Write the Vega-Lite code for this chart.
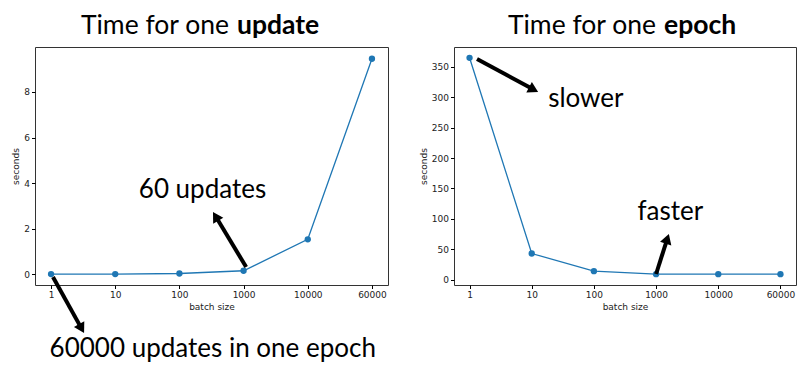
{
  "$schema": "https://vega.github.io/schema/vega-lite/v6.json",
  "padding": {"left": 11, "top": 12, "right": 5, "bottom": 0},
  "bounds": "flush",
  "spacing": 66,
  "datasets": {
    "update": [
      {"idx": 0, "batch": "1", "seconds": 0.003},
      {"idx": 1, "batch": "10", "seconds": 0.005},
      {"idx": 2, "batch": "100", "seconds": 0.03},
      {"idx": 3, "batch": "1000", "seconds": 0.15},
      {"idx": 4, "batch": "10000", "seconds": 1.53},
      {"idx": 5, "batch": "60000", "seconds": 9.46}
    ],
    "epoch": [
      {"idx": 0, "batch": "1", "seconds": 364.9},
      {"idx": 1, "batch": "10", "seconds": 42.9},
      {"idx": 2, "batch": "100", "seconds": 13.8},
      {"idx": 3, "batch": "1000", "seconds": 8.9},
      {"idx": 4, "batch": "10000", "seconds": 8.9},
      {"idx": 5, "batch": "60000", "seconds": 8.9}
    ],
    "updateTitle": [{"x": 2.835, "y": 10.55, "normal": "Time for one", "bold": "update"}],
    "epochTitle": [{"x": 3.063, "y": 404.1, "normal": "Time for one", "bold": "epoch"}],
    "updateNotes": [
      {"x": 2.36, "y": 3.345, "text": "60 updates"},
      {"x": 2.52, "y": -3.64, "text": "60000 updates in one epoch"}
    ],
    "epochNotes": [
      {"x": 1.87, "y": 284, "text": "slower"},
      {"x": 3.23, "y": 98, "text": "faster"}
    ],
    "updateArrows": [
      {"id": "a1", "x": 3.04, "y": 0.315, "x2": 2.564, "y2": 2.54},
      {"id": "a2", "x": 0.03, "y": -0.124, "x2": 0.476, "y2": -2.39}
    ],
    "epochArrows": [
      {"id": "a3", "x": 0.12, "y": 363, "x2": 1.03, "y2": 312.6},
      {"id": "a4", "x": 3.0, "y": 9.2, "x2": 3.18, "y2": 67.1}
    ]
  },
  "hconcat": [
    {
      "width": 353,
      "height": 238,
      "encoding": {
        "x": {"field": "x", "type": "quantitative", "scale": {"domain": [-0.25, 5.25], "nice": false, "zero": false},
              "axis": {"title": "batch size", "values": [0, 1, 2, 3, 4, 5], "labelExpr": "['1','10','100','1000','10000','60000'][datum.value]", "labelAngle": 0}},
        "y": {"field": "y", "type": "quantitative", "scale": {"domain": [-0.475, 9.975], "nice": false, "zero": false},
              "axis": {"title": "seconds", "values": [0, 2, 4, 6, 8]}}
      },
      "layer": [
        {"data": {"name": "update"}, "mark": {"type": "line", "color": "#1f77b4", "strokeWidth": 1.3},
         "encoding": {"x": {"field": "idx", "type": "quantitative"}, "y": {"field": "seconds", "type": "quantitative"}}},
        {"data": {"name": "update"}, "mark": {"type": "circle", "color": "#1f77b4", "opacity": 1, "size": 40},
         "encoding": {"x": {"field": "idx", "type": "quantitative"}, "y": {"field": "seconds", "type": "quantitative"}}},
        {"data": {"name": "updateTitle"}, "mark": {"type": "text", "align": "right", "baseline": "alphabetic", "dx": -4, "font": "Lato", "fontSize": 26.5, "color": "#000", "clip": false},
         "encoding": {"text": {"field": "normal"}}},
        {"data": {"name": "updateTitle"}, "mark": {"type": "text", "align": "left", "baseline": "alphabetic", "dx": 4, "font": "Lato", "fontSize": 26.5, "fontWeight": "bold", "color": "#000", "clip": false},
         "encoding": {"text": {"field": "bold"}}},
        {"data": {"name": "updateNotes"}, "mark": {"type": "text", "align": "center", "baseline": "alphabetic", "font": "Lato", "fontSize": 26, "color": "#000", "clip": false},
         "encoding": {"text": {"field": "text"}}},
        {"data": {"name": "updateArrows"}, "mark": {"type": "rule", "color": "#000", "strokeWidth": 4, "clip": false},
         "encoding": {"x2": {"field": "x2"}, "y2": {"field": "y2"}}},
        {"data": {"name": "updateArrows"}, "transform": [{"filter": "datum.id == 'a1'"}],
         "mark": {"type": "point", "shape": "triangle-up", "angle": 329, "filled": true, "color": "#000", "opacity": 1, "size": 140, "clip": false},
         "encoding": {"x": {"field": "x2", "type": "quantitative"}, "y": {"field": "y2", "type": "quantitative"}}},
        {"data": {"name": "updateArrows"}, "transform": [{"filter": "datum.id == 'a2'"}],
         "mark": {"type": "point", "shape": "triangle-up", "angle": 151, "filled": true, "color": "#000", "opacity": 1, "size": 140, "clip": false},
         "encoding": {"x": {"field": "x2", "type": "quantitative"}, "y": {"field": "y2", "type": "quantitative"}}}
      ]
    },
    {
      "width": 342,
      "height": 238,
      "encoding": {
        "x": {"field": "x", "type": "quantitative", "scale": {"domain": [-0.25, 5.25], "nice": false, "zero": false},
              "axis": {"title": "batch size", "values": [0, 1, 2, 3, 4, 5], "labelExpr": "['1','10','100','1000','10000','60000'][datum.value]", "labelAngle": 0}},
        "y": {"field": "y", "type": "quantitative", "scale": {"domain": [-8.9, 382.7], "nice": false, "zero": false},
              "axis": {"title": "seconds", "values": [0, 50, 100, 150, 200, 250, 300, 350]}}
      },
      "layer": [
        {"data": {"name": "epoch"}, "mark": {"type": "line", "color": "#1f77b4", "strokeWidth": 1.3},
         "encoding": {"x": {"field": "idx", "type": "quantitative"}, "y": {"field": "seconds", "type": "quantitative"}}},
        {"data": {"name": "epoch"}, "mark": {"type": "circle", "color": "#1f77b4", "opacity": 1, "size": 40},
         "encoding": {"x": {"field": "idx", "type": "quantitative"}, "y": {"field": "seconds", "type": "quantitative"}}},
        {"data": {"name": "epochTitle"}, "mark": {"type": "text", "align": "right", "baseline": "alphabetic", "dx": -4, "font": "Lato", "fontSize": 26.5, "color": "#000", "clip": false},
         "encoding": {"text": {"field": "normal"}}},
        {"data": {"name": "epochTitle"}, "mark": {"type": "text", "align": "left", "baseline": "alphabetic", "dx": 4, "font": "Lato", "fontSize": 26.5, "fontWeight": "bold", "color": "#000", "clip": false},
         "encoding": {"text": {"field": "bold"}}},
        {"data": {"name": "epochNotes"}, "mark": {"type": "text", "align": "center", "baseline": "alphabetic", "font": "Lato", "fontSize": 26, "color": "#000", "clip": false},
         "encoding": {"text": {"field": "text"}}},
        {"data": {"name": "epochArrows"}, "mark": {"type": "rule", "color": "#000", "strokeWidth": 4, "clip": false},
         "encoding": {"x2": {"field": "x2"}, "y2": {"field": "y2"}}},
        {"data": {"name": "epochArrows"}, "transform": [{"filter": "datum.id == 'a3'"}],
         "mark": {"type": "point", "shape": "triangle-up", "angle": 118, "filled": true, "color": "#000", "opacity": 1, "size": 140, "clip": false},
         "encoding": {"x": {"field": "x2", "type": "quantitative"}, "y": {"field": "y2", "type": "quantitative"}}},
        {"data": {"name": "epochArrows"}, "transform": [{"filter": "datum.id == 'a4'"}],
         "mark": {"type": "point", "shape": "triangle-up", "angle": 18, "filled": true, "color": "#000", "opacity": 1, "size": 140, "clip": false},
         "encoding": {"x": {"field": "x2", "type": "quantitative"}, "y": {"field": "y2", "type": "quantitative"}}}
      ]
    }
  ],
  "config": {
    "view": {"stroke": "#333", "strokeWidth": 1},
    "axis": {"grid": false, "domain": false, "tickColor": "#000", "tickSize": 3.5, "labelFont": "DejaVu Sans", "labelFontSize": 9, "labelColor": "#222", "titleFont": "DejaVu Sans", "titleFontSize": 9, "titleFontWeight": "normal", "titleColor": "#222", "labelPadding": 2, "titlePadding": 3}
  }
}
